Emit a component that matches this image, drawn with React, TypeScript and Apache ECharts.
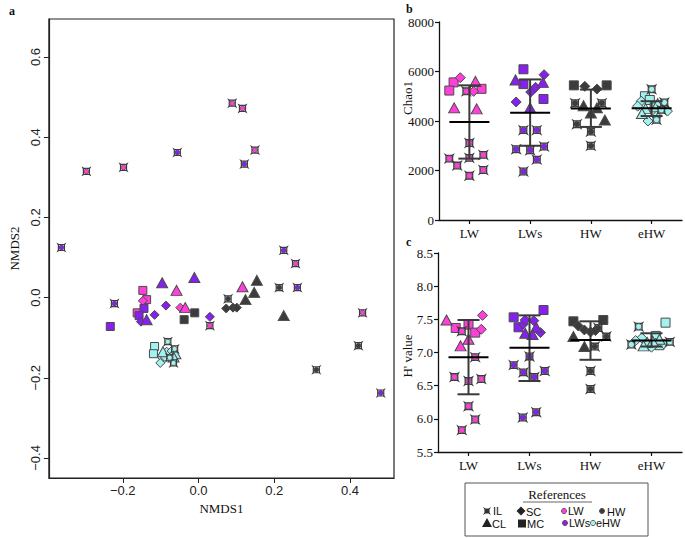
import React, { useEffect, useRef } from 'react';
import * as echarts from 'echarts';

type Kind = 'IL' | 'CL' | 'SC' | 'MC';
type NPt = [number, number, Kind];
type VPt = [number, Kind];

const groups = ['LW', 'LWs', 'HW', 'eHW'];
const groupColors: Record<string, string> = {
  LW: '#ff3fd9',
  LWs: '#8620ef',
  HW: '#3c3c3c',
  eHW: '#a2f3f0',
};

// ---------- panel a: NMDS ----------
const nmdsXTicks = [-0.2, 0, 0.2, 0.4];
const nmdsYTicks = [-0.4, -0.2, 0, 0.2, 0.4, 0.6];

const nmdsLW: NPt[] = [
  [-0.296, 0.315, 'IL'], [-0.198, 0.325, 'IL'], [0.089, 0.485, 'IL'], [0.116, 0.472, 'IL'],
  [0.149, 0.368, 'IL'], [0.256, 0.085, 'IL'], [0.433, -0.038, 'IL'], [0.03, -0.07, 'IL'],
  [-0.058, 0.018, 'CL'], [0.116, 0.027, 'CL'], [-0.035, -0.025, 'CL'],
  [-0.147, -0.008, 'SC'], [-0.048, -0.025, 'SC'],
  [-0.147, 0.018, 'MC'], [-0.137, -0.005, 'MC'], [-0.162, -0.038, 'MC'],
];
const nmdsLWs: NPt[] = [
  [-0.056, 0.362, 'IL'], [0.121, 0.333, 'IL'], [-0.362, 0.125, 'IL'], [0.225, 0.118, 'IL'],
  [0.261, 0.025, 'IL'], [-0.222, -0.015, 'IL'], [0.481, -0.238, 'IL'],
  [-0.096, 0.037, 'CL'], [-0.011, 0.05, 'CL'], [-0.137, -0.055, 'CL'],
  [-0.152, -0.06, 'SC'], [-0.116, -0.043, 'SC'], [-0.086, -0.02, 'SC'], [0.03, -0.048, 'SC'],
  [-0.233, -0.072, 'MC'], [-0.144, -0.027, 'MC'], [-0.157, -0.045, 'MC'],
];
const nmdsHW: NPt[] = [
  [0.078, -0.003, 'IL'], [0.213, 0.025, 'IL'], [0.422, -0.12, 'IL'], [0.311, -0.18, 'IL'],
  [0.154, 0.043, 'CL'], [0.147, 0.013, 'CL'], [0.124, -0.005, 'CL'], [0.225, -0.045, 'CL'],
  [0.073, -0.027, 'SC'], [0.091, -0.025, 'SC'], [0.101, -0.025, 'SC'],
  [-0.01, -0.038, 'MC'], [-0.038, -0.055, 'MC'],
];
const nmdsEHW: NPt[] = [
  [-0.081, -0.11, 'IL'], [-0.066, -0.163, 'IL'], [-0.063, -0.128, 'IL'], [-0.076, -0.15, 'IL'],
  [-0.116, -0.122, 'MC'], [-0.119, -0.14, 'MC'],
  [-0.096, -0.15, 'SC'], [-0.101, -0.163, 'SC'], [-0.084, -0.135, 'SC'], [-0.071, -0.133, 'SC'], [-0.089, -0.148, 'SC'],
  [-0.061, -0.14, 'CL'], [-0.094, -0.135, 'CL'], [-0.066, -0.148, 'CL'],
];

// ---------- panel b: Chao1 ----------
const chaoLW: VPt[] = [
  [5750, 'SC'], [5600, 'CL'], [5560, 'MC'], [5230, 'MC'], [5200, 'IL'], [5200, 'SC'], [5300, 'MC'],
  [4530, 'CL'], [4490, 'CL'], [3110, 'IL'], [2510, 'IL'], [2480, 'IL'], [2200, 'IL'], [2630, 'IL'],
  [2020, 'IL'], [1790, 'IL'],
];
const chaoLWJitter = [-0.15, 0.1, -0.26, -0.33, -0.05, 0.07, 0.2, -0.25, 0.12, 0, 0, -0.33, -0.2, 0.23, 0.23, 0];
const chaoLWs: VPt[] = [
  [6090, 'MC'], [5870, 'SC'], [5660, 'CL'], [5490, 'MC'], [5560, 'CL'], [5360, 'SC'], [5170, 'SC'],
  [4890, 'MC'], [4770, 'SC'], [4530, 'CL'], [3630, 'IL'], [3630, 'IL'], [2860, 'IL'], [2820, 'IL'],
  [2970, 'IL'], [2440, 'IL'], [1960, 'IL'],
];
const chaoLWsJitter = [-0.11, 0.23, -0.24, -0.11, 0.21, 0.09, 0.01, 0.22, -0.23, 0, -0.11, 0.11, -0.23, 0, 0.23, 0.11, -0.11];
const chaoHW: VPt[] = [
  [5440, 'MC'], [5400, 'SC'], [5290, 'SC'], [5440, 'MC'], [4720, 'IL'], [4620, 'CL'], [4720, 'IL'],
  [4320, 'CL'], [4040, 'CL'], [4530, 'CL'], [3870, 'IL'], [3570, 'IL'], [3000, 'IL'],
];
const chaoHWJitter = [-0.28, -0.1, 0.1, 0.26, -0.26, -0.12, 0.18, 0, 0.23, 0.1, -0.23, 0, 0];
const chaoEHW: VPt[] = [
  [5280, 'IL'], [5000, 'MC'], [4850, 'MC'], [4800, 'SC'], [4750, 'IL'], [4700, 'CL'], [4600, 'SC'],
  [4550, 'MC'], [4500, 'CL'], [4450, 'IL'], [4400, 'SC'], [4300, 'CL'], [4200, 'SC'], [4000, 'SC'],
  [4050, 'IL'],
];
const chaoEHWJitter = [0, -0.11, -0.03, -0.17, 0.21, 0.1, -0.23, 0.05, -0.1, 0.16, 0.26, -0.16, 0.08, -0.06, 0.08];
const chaoMean = [3960, 4330, 4510, 4520];
const chaoLow = [2480, 3000, 3760, 4200];
const chaoHigh = [5440, 5680, 5270, 4800];

// ---------- panel c: Shannon H' ----------
const hLW: VPt[] = [
  [7.49, 'CL'], [7.37, 'MC'], [7.42, 'MC'], [7.32, 'IL'], [7.2, 'CL'], [7.1, 'CL'], [7.3, 'MC'],
  [7.56, 'SC'], [7.35, 'SC'], [6.93, 'IL'], [6.63, 'IL'], [6.57, 'IL'], [6.6, 'IL'], [6.19, 'IL'],
  [5.99, 'IL'], [5.83, 'IL'],
];
const hLWJitter = [-0.36, -0.21, 0, -0.11, 0, -0.13, 0.11, 0.23, 0.21, 0.11, -0.23, 0, 0.21, 0, 0.11, -0.11];
const hLWs: VPt[] = [
  [7.53, 'MC'], [7.64, 'MC'], [7.38, 'MC'], [7.43, 'SC'], [7.49, 'SC'], [7.48, 'SC'], [7.38, 'CL'],
  [7.29, 'CL'], [7.27, 'CL'], [7.3, 'SC'], [6.94, 'IL'], [6.81, 'IL'], [6.7, 'IL'], [6.63, 'IL'],
  [6.72, 'IL'], [6.02, 'IL'], [6.1, 'IL'],
];
const hLWsJitter = [-0.26, 0.23, -0.18, -0.1, -0.07, 0.07, 0.11, -0.07, 0.05, 0.18, 0, -0.26, -0.1, 0.08, 0.25, -0.11, 0.11];
const hHW: VPt[] = [
  [7.47, 'MC'], [7.49, 'MC'], [7.4, 'SC'], [7.34, 'SC'], [7.31, 'SC'], [7.33, 'SC'], [7.24, 'CL'],
  [7.09, 'CL'], [7.37, 'IL'], [7.24, 'IL'], [7.09, 'IL'], [6.72, 'IL'], [6.45, 'IL'],
];
const hHWJitter = [-0.28, 0.21, -0.2, -0.1, 0, 0.08, -0.28, -0.1, 0.13, 0.26, 0.07, 0, 0];
const hEHW: VPt[] = [
  [7.39, 'IL'], [7.45, 'MC'], [7.25, 'MC'], [7.22, 'SC'], [7.2, 'CL'], [7.18, 'SC'], [7.16, 'IL'],
  [7.15, 'CL'], [7.13, 'SC'], [7.12, 'IL'], [7.1, 'CL'], [7.08, 'SC'], [7.14, 'SC'], [7.11, 'MC'],
  [7.17, 'CL'],
];
const hEHWJitter = [-0.21, 0.23, 0.07, -0.16, 0.13, -0.26, 0.3, -0.07, 0.2, -0.33, -0.13, 0, 0.07, 0.13, 0.02];
const hMean = [6.93, 7.07, 7.19, 7.18];
const hLow = [6.37, 6.57, 6.89, 7.09];
const hHigh = [7.49, 7.56, 7.47, 7.29];

// ---------- helpers ----------
const IL_PATH =
  'path://M0,0L2.6,1.4L7.4,1.4L10,0L8.6,2.6L8.6,7.4L10,10L7.4,8.6L2.6,8.6L0,10L1.4,7.4L1.4,2.6Z M2.6,2.6L2.6,7.4L7.4,7.4L7.4,2.6Z';
const SERIF = 'Liberation Serif, Times New Roman, serif';
const SANS = 'Liberation Sans, Arial, sans-serif';
const BORDER = '#4a4a4a';

interface Sizes { IL: number; dot: number; CL: number[]; SC: number; MC: number }

function buildSeries(
  pts: { x: number; y: number; kind: Kind }[],
  group: string,
  xAxisIndex: number,
  yAxisIndex: number,
  sz: Sizes,
) {
  const out: any[] = [];
  const color = groupColors[group];
  const base = { type: 'scatter', xAxisIndex, yAxisIndex, silent: true };
  (['MC', 'SC', 'CL'] as Kind[]).forEach((k) => {
    const d = pts.filter((p) => p.kind === k).map((p) => [p.x, p.y]);
    if (!d.length) return;
    out.push({
      ...base,
      name: group + k,
      symbol: k === 'MC' ? 'rect' : k === 'SC' ? 'diamond' : 'triangle',
      symbolSize: k === 'MC' ? sz.MC : k === 'SC' ? sz.SC : sz.CL,
      itemStyle: { color, borderColor: BORDER, borderWidth: 1, opacity: 1 },
      data: d,
    });
  });
  const il = pts.filter((p) => p.kind === 'IL').map((p) => [p.x, p.y]);
  if (il.length) {
    out.push({
      ...base,
      name: group + 'IL',
      symbol: IL_PATH,
      symbolSize: sz.IL,
      itemStyle: { color: '#3a3a3a', opacity: 1 },
      data: il,
    });
    out.push({
      ...base,
      name: group + 'ILdot',
      symbol: 'circle',
      symbolSize: sz.dot,
      itemStyle: { color, borderColor: BORDER, borderWidth: 0.8, opacity: 1 },
      data: il,
    });
  }
  return out;
}

function errorBarSeries(mean: number[], low: number[], high: number[], xAxisIndex: number, yAxisIndex: number) {
  return {
    type: 'custom',
    xAxisIndex,
    yAxisIndex,
    silent: true,
    z: 5,
    encode: { x: 0, y: [1, 2, 3] },
    data: mean.map((m, i) => [i, m, low[i], high[i]]),
    renderItem: (_p: any, api: any) => {
      const x = api.value(0);
      const pm = api.coord([x, api.value(1)]);
      const pl = api.coord([x, api.value(2)]);
      const ph = api.coord([x, api.value(3)]);
      const capW = 11;
      const meanW = 20;
      const gs = { stroke: '#3a3a3a', lineWidth: 2 };
      return {
        type: 'group',
        children: [
          { type: 'line', shape: { x1: pl[0], y1: pl[1], x2: ph[0], y2: ph[1] }, style: gs },
          { type: 'line', shape: { x1: ph[0] - capW, y1: ph[1], x2: ph[0] + capW, y2: ph[1] }, style: gs },
          { type: 'line', shape: { x1: pl[0] - capW, y1: pl[1], x2: pl[0] + capW, y2: pl[1] }, style: gs },
          { type: 'line', shape: { x1: pm[0] - meanW, y1: pm[1], x2: pm[0] + meanW, y2: pm[1] }, style: { stroke: '#000', lineWidth: 2 } },
        ],
      };
    },
  };
}

const fmtMinus = (v: number) => v.toFixed(1).replace('-', '\u2212');

export default function App() {
  const ref = useRef<HTMLDivElement>(null);

  useEffect(() => {
    if (!ref.current) return;
    const chart = echarts.init(ref.current, undefined, { renderer: 'svg' });

    const nmdsSets: [string, NPt[]][] = [['LW', nmdsLW], ['LWs', nmdsLWs], ['HW', nmdsHW], ['eHW', nmdsEHW]];
    const chaoSets: [string, VPt[], number[]][] = [
      ['LW', chaoLW, chaoLWJitter], ['LWs', chaoLWs, chaoLWsJitter], ['HW', chaoHW, chaoHWJitter], ['eHW', chaoEHW, chaoEHWJitter],
    ];
    const hSets: [string, VPt[], number[]][] = [
      ['LW', hLW, hLWJitter], ['LWs', hLWs, hLWsJitter], ['HW', hHW, hHWJitter], ['eHW', hEHW, hEHWJitter],
    ];

    const sizeA: Sizes = { IL: 10, dot: 5, CL: [11, 10], SC: 9, MC: 8 };
    const sizeB: Sizes = { IL: 11, dot: 6, CL: [11, 10], SC: 10, MC: 9 };

    const series: any[] = [];
    nmdsSets.forEach(([g, pts]) => {
      series.push(...buildSeries(pts.map((p) => ({ x: p[0], y: p[1], kind: p[2] })), g, 0, 0, sizeA));
    });
    chaoSets.forEach(([g, pts, jit]) => {
      const gi = groups.indexOf(g);
      series.push(...buildSeries(pts.map((p, i) => ({ x: gi + jit[i], y: p[0], kind: p[1] })), g, 2, 1, sizeB));
    });
    hSets.forEach(([g, pts, jit]) => {
      const gi = groups.indexOf(g);
      series.push(...buildSeries(pts.map((p, i) => ({ x: gi + jit[i], y: p[0], kind: p[1] })), g, 4, 2, sizeB));
    });
    series.push(errorBarSeries(chaoMean, chaoLow, chaoHigh, 2, 1));
    series.push(errorBarSeries(hMean, hLow, hHigh, 4, 2));

    const axisLineBlack = { show: true, onZero: false, lineStyle: { color: '#111', width: 1.3 } };
    const catAxis = (gridIndex: number) => ({
      type: 'category',
      gridIndex,
      data: groups,
      boundaryGap: true,
      axisLine: axisLineBlack,
      axisTick: { show: true, alignWithLabel: true, length: 4, lineStyle: { color: '#111', width: 1.2 } },
      axisLabel: { fontFamily: SERIF, fontSize: 13, color: '#111', margin: 7 },
      splitLine: { show: false },
    });
    const hiddenVal = (gridIndex: number) => ({
      type: 'value', gridIndex, min: -0.5, max: 3.5, show: false, splitLine: { show: false },
      axisLine: { show: false, onZero: false },
    });

    // legend graphic
    const lx = 465, ly = 483;
    const legendText = (x: number, y: number, t: string) => ({
      type: 'text', x, y, style: { text: t, font: `11px ${SANS}`, fill: '#111', verticalAlign: 'middle', align: 'left' },
    });
    const glyph = (cx: number, cy: number, s: number, fill: string) => {
      const h = s / 2;
      const f = (a: number, b: number) => [cx - h + (a / 10) * s, cy - h + (b / 10) * s];
      return {
        type: 'polygon',
        shape: {
          points: [f(0, 0), f(3.2, 1.8), f(6.8, 1.8), f(10, 0), f(8.2, 3.2), f(8.2, 6.8), f(10, 10), f(6.8, 8.2), f(3.2, 8.2), f(0, 10), f(1.8, 6.8), f(1.8, 3.2)],
        },
        style: { fill },
      };
    };
    const dot = (cx: number, cy: number, fill: string) => ({
      type: 'circle', shape: { cx, cy, r: 2.6 }, style: { fill, stroke: BORDER, lineWidth: 0.8 },
    });
    const r1 = 511, r2 = 523;

    const graphic: any[] = [
      { type: 'text', x: 9, y: 5, style: { text: 'a', font: `bold 12px ${SERIF}`, fill: '#111' } },
      { type: 'text', x: 406, y: 3, style: { text: 'b', font: `bold 12px ${SERIF}`, fill: '#111' } },
      { type: 'text', x: 406, y: 236, style: { text: 'c', font: `bold 12px ${SERIF}`, fill: '#111' } },
      {
        type: 'text', x: 407, y: 98, rotation: Math.PI / 2,
        style: { text: 'Chao1', font: `13px ${SERIF}`, fill: '#111', align: 'center', verticalAlign: 'middle' },
      },
      {
        type: 'text', x: 407, y: 356, rotation: Math.PI / 2,
        style: { text: "H' value", font: `13px ${SERIF}`, fill: '#111', align: 'center', verticalAlign: 'middle' },
      },
      { type: 'rect', shape: { x: lx, y: ly, width: 183, height: 53 }, style: { fill: 'none', stroke: '#555', lineWidth: 1 } },
      {
        type: 'text', x: 557, y: 494,
        style: { text: 'References', font: `13px ${SERIF}`, fill: '#111', align: 'center', verticalAlign: 'middle' },
      },
      { type: 'line', shape: { x1: 523, y1: 502, x2: 592, y2: 502 }, style: { stroke: '#666', lineWidth: 1 } },
      glyph(487, r1, 8, '#333'),
      legendText(493, r1, 'IL'),
      { type: 'polygon', shape: { points: [[521, r1 - 4.5], [525.5, r1], [521, r1 + 4.5], [516.5, r1]] }, style: { fill: '#222' } },
      legendText(526, r1 + 1, 'SC'),
      dot(564, r1, groupColors.LW),
      legendText(568, r1, 'LW'),
      dot(602, r1, groupColors.HW),
      legendText(607, r1 + 1, 'HW'),
      { type: 'polygon', shape: { points: [[487, r2 - 5], [492, r2 + 4], [482, r2 + 4]] }, style: { fill: '#222' } },
      legendText(492, r2 + 1, 'CL'),
      { type: 'rect', shape: { x: 518, y: r2 - 3.5, width: 8, height: 8 }, style: { fill: '#222' } },
      legendText(527, r2 + 1, 'MC'),
      dot(565, r2, groupColors.LWs),
      legendText(569, r2, 'LWs'),
      dot(593, r2, groupColors.eHW),
      legendText(596, r2, 'eHW'),
    ];

    const option: any = {
      animation: false,
      backgroundColor: '#fff',
      grid: [
        { left: 34, top: 19, width: 360, height: 459, show: true, borderColor: '#222', borderWidth: 1.2, backgroundColor: 'transparent' },
        { left: 439, top: 22, width: 243, height: 198 },
        { left: 438, top: 253, width: 244, height: 199 },
      ],
      xAxis: [
        {
          type: 'value',
          gridIndex: 0,
          min: -0.395,
          max: 0.516,
          axisLine: { show: true, onZero: false, lineStyle: { color: '#222', width: 1.2 } },
          axisTick: { show: true, customValues: nmdsXTicks, length: 5, lineStyle: { color: '#222' } },
          axisLabel: { customValues: nmdsXTicks, formatter: fmtMinus, fontFamily: SANS, fontSize: 13, color: '#222', margin: 6 },
          splitLine: { show: false },
          name: 'NMDS1',
          nameLocation: 'middle',
          nameGap: 23,
          nameTextStyle: { fontFamily: SERIF, fontSize: 13, color: '#111' },
        },
        catAxis(1),
        hiddenVal(1),
        catAxis(2),
        hiddenVal(2),
      ],
      yAxis: [
        {
          type: 'value',
          gridIndex: 0,
          min: -0.45,
          max: 0.695,
          axisLine: { show: true, onZero: false, lineStyle: { color: '#222', width: 1.2 } },
          axisTick: { show: true, customValues: nmdsYTicks, length: 5, lineStyle: { color: '#222' } },
          axisLabel: { customValues: nmdsYTicks, formatter: fmtMinus, rotate: 90, fontFamily: SANS, fontSize: 13, color: '#222', margin: 7 },
          splitLine: { show: false },
          name: 'NMDS2',
          nameLocation: 'middle',
          nameGap: 21,
          nameTextStyle: { fontFamily: SERIF, fontSize: 13, color: '#111' },
        },
        {
          type: 'value',
          gridIndex: 1,
          min: 0,
          max: 8000,
          interval: 2000,
          axisLine: axisLineBlack,
          axisTick: { show: true, length: 4, lineStyle: { color: '#111', width: 1.2 } },
          axisLabel: { fontFamily: SERIF, fontSize: 13, color: '#111', margin: 5, formatter: (v: number) => String(v) },
          splitLine: { show: false },
        },
        {
          type: 'value',
          gridIndex: 2,
          min: 5.5,
          max: 8.5,
          interval: 0.5,
          axisLine: axisLineBlack,
          axisTick: { show: true, length: 4, lineStyle: { color: '#111', width: 1.2 } },
          axisLabel: { fontFamily: SERIF, fontSize: 13, color: '#111', margin: 5, formatter: (v: number) => v.toFixed(1) },
          splitLine: { show: false },
        },
      ],
      series,
      graphic,
    };

    chart.setOption(option);
    return () => chart.dispose();
  }, []);

  return (
    <div
      ref={ref}
      style={{ position: 'absolute', left: 0, top: 0, width: 685, height: 538, background: '#fff' }}
    />
  );
}
